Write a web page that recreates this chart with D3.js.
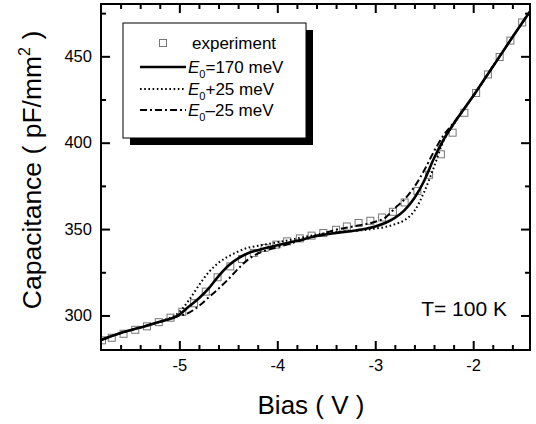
<!DOCTYPE html>
<html>
<head>
<meta charset="utf-8">
<script src="https://cdn.jsdelivr.net/npm/d3@7.9.0/dist/d3.min.js"></script>
<style>
  body { margin: 0; background: #fff; }
  svg { display: block; font-family: "Liberation Sans", Arial, sans-serif; }
</style>
</head>
<body>
<svg id="chart" width="536" height="424"></svg>
<script>
// experiment points (bias V, capacitance pF/mm^2)
const expBias = [-5.79, -5.69, -5.57, -5.45, -5.33, -5.21, -5.09, -4.97, -4.85, -4.73, -4.61, -4.48,
  -4.36, -4.24, -4.13, -4.01, -3.90, -3.77, -3.65, -3.53, -3.40, -3.29, -3.17, -3.05, -2.93, -2.82,
  -2.70, -2.57, -2.45, -2.33, -2.21, -2.09, -1.97, -1.85, -1.73, -1.62, -1.50];
const expCap = [285.6, 287.1, 289.4, 291.7, 293.7, 296.1, 298.7, 302.1, 307.1, 313.8, 322.1, 328.4,
  332.7, 336.2, 339.1, 341.0, 342.9, 344.6, 346.2, 347.7, 349.6, 351.5, 353.5, 354.8, 356.7, 360.0,
  365.4, 372.1, 381.4, 393.3, 405.8, 417.3, 428.8, 439.5, 449.6, 459.1, 469.6];

// model curves
const fitBias = [-5.8, -5.6, -5.4, -5.2, -5.0, -4.9, -4.8, -4.7, -4.6, -4.5, -4.4, -4.3, -4.2, -4.0,
  -3.8, -3.6, -3.4, -3.2, -3.0, -2.9, -2.8, -2.7, -2.6, -2.5, -2.4, -2.3, -2.2, -2.0, -1.8, -1.6, -1.42];
const capE0 = [285.8, 289.8, 293.0, 296.3, 300.5, 305.3, 310.0, 315.7, 322.8, 328.8, 333.0, 336.0, 337.8, 340.6,
  343.2, 346.0, 347.8, 349.2, 351.5, 353.5, 356.5, 361.0, 368.0, 378.0, 391.0, 402.0, 411.0, 427.0, 444.0, 461.0, 476.0];
const capPlus = [285.8, 289.8, 293.0, 296.5, 302.0, 309.0, 317.5, 325.0, 330.5, 334.2, 337.0, 339.2, 340.3, 342.3,
  344.5, 346.8, 348.2, 349.0, 350.3, 351.2, 352.8, 355.2, 360.5, 371.5, 386.0, 401.5, 410.5, 427.0, 444.0, 461.0, 476.0];
const capMinus = [285.8, 289.8, 293.0, 296.3, 299.8, 301.6, 305.5, 310.5, 315.5, 321.0, 327.0, 332.3, 335.8, 339.5,
  342.8, 346.2, 349.6, 351.8, 354.2, 356.5, 362.0, 367.3, 374.5, 384.0, 395.0, 404.5, 411.5, 427.0, 444.0, 461.0, 476.0];

const xTicks = [-5, -4, -3, -2];
const yTicks = [300, 350, 400, 450];

const margin = { left: 101, right: 530, top: 4, bottom: 350 };
const svg = d3.select('#chart');

const x = d3.scaleLinear().domain([-5.8, -1.42]).range([margin.left, margin.right]);
const y = d3.scaleLinear().domain([280, 480]).range([margin.bottom, margin.top + 0.5]);

const plot = svg.append('g');
plot.append('clipPath').attr('id', 'clip')
  .append('rect')
  .attr('x', margin.left).attr('y', margin.top)
  .attr('width', margin.right - margin.left).attr('height', margin.bottom - margin.top);

const line = d3.line().x(d => x(d[0])).y(d => y(d[1])).curve(d3.curveMonotoneX);
const zip = (a, b) => a.map((v, i) => [v, b[i]]);

const curves = [
  { vals: capPlus, dash: '1.6,2.6', width: 2 },
  { vals: capMinus, dash: '7,3,2,3', width: 2 },
  { vals: capE0, dash: null, width: 2.6 }
];

const g = plot.append('g').attr('clip-path', 'url(#clip)');

// experiment squares
g.selectAll('rect.exp')
  .data(zip(expBias, expCap))
  .join('rect')
  .attr('class', 'exp')
  .attr('x', d => x(d[0]) - 3.5)
  .attr('y', d => y(d[1]) - 3.5)
  .attr('width', 7).attr('height', 7)
  .attr('fill', 'none')
  .attr('stroke', '#777')
  .attr('stroke-width', 1);

curves.forEach(c => {
  g.append('path')
    .attr('d', line(zip(fitBias, c.vals)))
    .attr('fill', 'none')
    .attr('stroke', '#000')
    .attr('stroke-width', c.width)
    .attr('stroke-dasharray', c.dash);
});

// axes with inward ticks, minor + major
function addAxis(axisFn, scale, tr, major, minorStep, showLabels) {
  const [d0, d1] = scale.domain();
  const minor = d3.range(Math.ceil(d0 / minorStep) * minorStep, d1 + 1e-9, minorStep)
    .filter(v => !major.some(m => Math.abs(m - v) < 1e-6));
  const gMinor = svg.append('g').attr('transform', tr)
    .call(axisFn(scale).tickValues(minor).tickSize(-5).tickFormat(''));
  const gMajor = svg.append('g').attr('transform', tr)
    .call(axisFn(scale).tickValues(major).tickSize(-9).tickPadding(14)
      .tickFormat(showLabels ? d3.format('d') : ''));
  [gMinor, gMajor].forEach(a => {
    a.select('.domain').remove();
    a.selectAll('.tick line').attr('stroke-width', 2);
    a.selectAll('text').attr('font-size', 16.5).attr('fill', '#000')
      .attr('font-family', '"Liberation Sans", Arial, sans-serif');
  });
  return gMajor;
}

const hyph = t => String(t).replace('\u2212', '-');
const bAx = addAxis(d3.axisBottom, x, `translate(0,${margin.bottom})`, xTicks, 0.2, true);
bAx.selectAll('text').text(d => hyph(d)).attr('dy', '0.4em');
addAxis(d3.axisTop, x, `translate(0,${margin.top})`, xTicks, 0.2, false);
const lAx = addAxis(d3.axisLeft, y, `translate(${margin.left},0)`, yTicks, 25, true);
lAx.selectAll('text').attr('dx', '0.3em');
addAxis(d3.axisRight, y, `translate(${margin.right},0)`, yTicks, 25, false);

// frame
svg.append('rect')
  .attr('x', margin.left).attr('y', margin.top)
  .attr('width', margin.right - margin.left).attr('height', margin.bottom - margin.top)
  .attr('fill', 'none').attr('stroke', '#000').attr('stroke-width', 2);

// axis titles
svg.append('text')
  .attr('x', 311).attr('y', 414)
  .attr('text-anchor', 'middle')
  .attr('font-size', 26)
  .text('Bias ( V )');

const yt = svg.append('text')
  .attr('transform', 'translate(41,170) rotate(-90)')
  .attr('text-anchor', 'middle')
  .attr('font-size', 26.5);
yt.append('tspan').text('Capacitance ( pF/mm');
yt.append('tspan').attr('font-size', 16).attr('dy', -11).text('2');
yt.append('tspan').attr('dy', 11).text(' )');

svg.append('text')
  .attr('x', 507).attr('y', 316)
  .attr('text-anchor', 'end')
  .attr('font-size', 21)
  .text('T= 100 K');

// legend
const lg = svg.append('g');
lg.append('rect').attr('x', 130).attr('y', 30).attr('width', 183).attr('height', 115).attr('fill', '#000');
lg.append('rect').attr('x', 123).attr('y', 23).attr('width', 183).attr('height', 115)
  .attr('fill', '#fff').attr('stroke', '#000').attr('stroke-width', 1);

const legendRows = [
  { kind: 'exp', label: 'experiment' },
  { kind: 'line', dash: null, width: 2.6, sub: '=170 meV' },
  { kind: 'line', dash: '1.6,2.6', width: 2, sub: '+25 meV' },
  { kind: 'line', dash: '7,3,2,3', width: 2, sub: '\u201325 meV' }
];
const rowY = [43, 67, 89, 110];
legendRows.forEach((r, i) => {
  const cy = rowY[i];
  if (r.kind === 'exp') {
    lg.append('rect').attr('x', 159.5).attr('y', cy - 3.5).attr('width', 7).attr('height', 7)
      .attr('fill', 'none').attr('stroke', '#777').attr('stroke-width', 1);
    lg.append('text').attr('x', 192).attr('y', cy + 6).attr('font-size', 17).text(r.label);
  } else {
    lg.append('line').attr('x1', 140).attr('x2', 186).attr('y1', cy).attr('y2', cy)
      .attr('stroke', '#000').attr('stroke-width', r.width).attr('stroke-dasharray', r.dash);
    const t = lg.append('text').attr('x', 188).attr('y', cy + 6).attr('font-size', 17);
    t.append('tspan').attr('font-style', 'italic').text('E');
    t.append('tspan').attr('font-size', 11).attr('dy', 5).text('0');
    t.append('tspan').attr('dy', -5).text(r.sub);
  }
});
</script>
</body>
</html>
